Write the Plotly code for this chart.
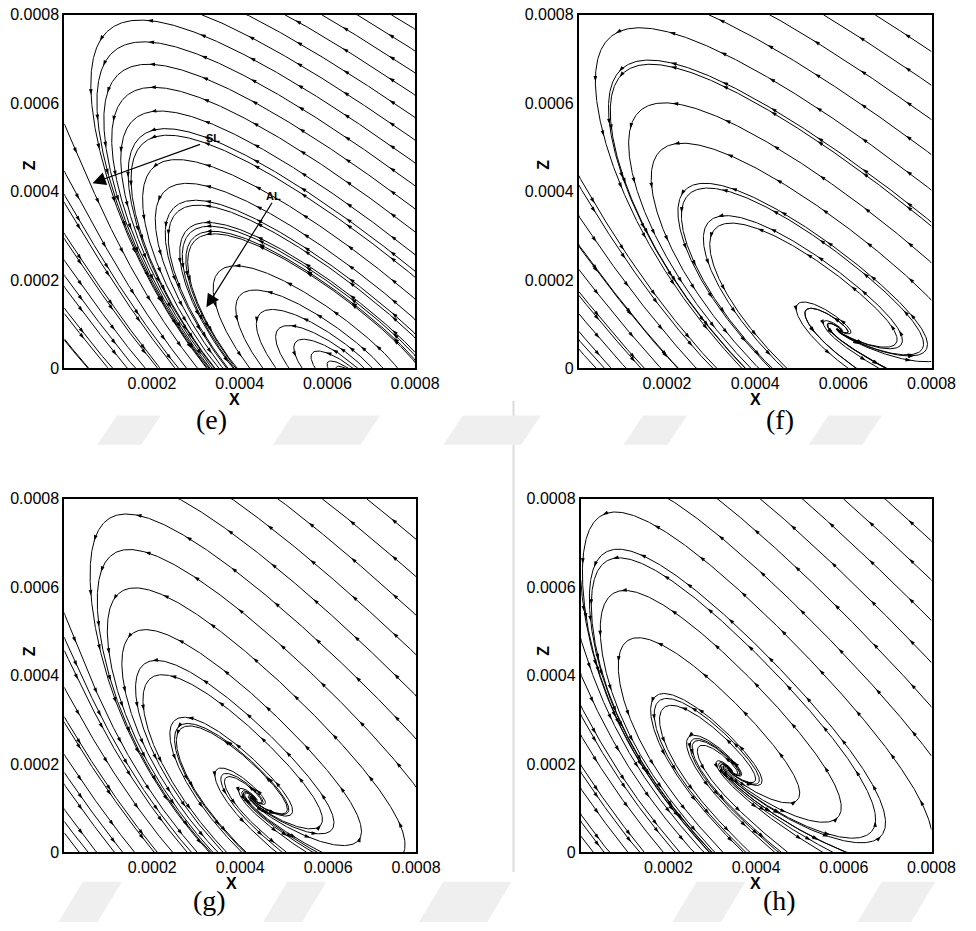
import numpy as np
import plotly.graph_objects as go

# ---------------- data (lengths in units of 1e-4) ----------------
PANEL_LABELS = ["(e)", "(f)", "(g)", "(h)"]
FOCUS_X = [6.5, 5.9, 4.3, 3.4]          # source / focus position
FOCUS_Z = [-0.12, 0.86, 1.2, 1.85]
AXIS_DEG = [140, 140, 134, 132]         # orientation of the elongated loops
M_LEFT = [-0.25, -0.19, -0.20, -0.25]   # tilt of turning line near the source
K_LEFT = [0.054, 0.047, 0.07, 0.08]     # bending of turning line toward the separation line
M_RIGHT = [0.50, 0.50, 0.45, 0.45]      # tilt of turning line (attachment side)
A_COEF = [0.10, 0.10, 0.10, 0.10]
B_COEF = [0.05, 0.05, 0.05, 0.05]
C_COEF = [0.02, 0.02, 0.02, 0.02]
SEED_STEP = [0.3, 0.45, 0.45, 0.45]     # rake spacing along the diagonal
# heights where the lower-left lines enter through the left edge
LEFT_SEEDS = [[4.4, 3.7, 3.0, 2.4, 1.8, 1.2, 0.6],
              [4.3, 3.4, 2.75, 2.2, 1.7, 1.2, 0.8, 0.4],
              [5.33, 4.5, 3.67, 2.89, 2.16, 1.49, 0.93, 0.4],
              [5.82, 4.73, 3.96, 3.26, 2.6, 1.93, 1.4, 0.82, 0.33]]
X_TICKS = [0.0002, 0.0004, 0.0006, 0.0008]
X_TICKTEXT = ["0.0002", "0.0004", "0.0006", "0.0008"]
Z_TICKS = [0, 0.0002, 0.0004, 0.0006, 0.0008]
Z_TICKTEXT = ["0", "0.0002", "0.0004", "0.0006", "0.0008"]

W, H = 976, 931
BOX = [(66, 426, 7, 367), (594, 956, 7, 367), (66, 427, 500, 860), (596, 956, 500, 860)]
L = 8.0


def make_field(i):
    F = np.array([FOCUS_X[i], FOCUS_Z[i]])
    th = np.radians(AXIS_DEG[i])
    es = np.array([np.cos(th), np.sin(th)])
    en = np.array([np.sin(th), -np.cos(th)])
    m1, k1, m2 = M_LEFT[i], K_LEFT[i], M_RIGHT[i]
    a, b, c = A_COEF[i], B_COEF[i], C_COEF[i]

    def f(P):
        X = P - F
        s = X @ es
        n = X @ en
        sp = np.maximum(s, 0)
        sm = np.maximum(-s, 0)
        ds = n - m1 * sp - k1 * sp * sp - m2 * sm
        dn = -a * s + b * n - c * np.maximum(n, 0) ** 2
        return ds[:, None] * es[None, :] + dn[:, None] * en[None, :]
    return f


def integrate(f, seeds, sign, h=0.025, Lmax=32, vmin=0.003):
    N = len(seeds)
    nst = int(Lmax / h)
    out = np.full((nst + 1, N, 2), np.nan)
    P = seeds.astype(float).copy()
    out[0] = P
    alive = np.ones(N, bool)

    def u(Q):
        V = f(Q)
        m = np.hypot(V[:, 0], V[:, 1])
        return sign * V / np.maximum(m, 1e-12)[:, None], m

    for k in range(nst):
        idx = np.flatnonzero(alive)
        if idx.size == 0:
            break
        p = P[idx]
        k1, m1 = u(p)
        k2, _ = u(p + 0.5 * h * k1)
        k3, _ = u(p + 0.5 * h * k2)
        k4, _ = u(p + h * k3)
        pn = p + h / 6 * (k1 + 2 * k2 + 2 * k3 + k4)
        ex = (pn[:, 0] < 0) | (pn[:, 0] > L) | (pn[:, 1] < 0) | (pn[:, 1] > L)
        pn = np.clip(pn, 0, L)
        stop = ex | (m1 < vmin)
        out[k + 1, idx] = pn
        P[idx] = pn
        alive[idx[stop]] = False
    return out


fig = go.Figure()
for i in range(4):
    f = make_field(i)
    t = np.arange(0.3, 7.85, SEED_STEP[i])
    S = [np.c_[t, t]]
    zl = np.array(LEFT_SEEDS[i])
    S.append(np.c_[np.full_like(zl, 0.03), zl])
    F = np.array([FOCUS_X[i], FOCUS_Z[i]])
    ang = np.linspace(0, 2 * np.pi, 9)[:-1]
    if F[1] > 0:
        S.append(F + 0.2 * np.c_[np.cos(ang), np.sin(ang)])
    else:
        xx = np.arange(3.9, 6.5, 0.3)
        S.append(np.c_[xx, np.full_like(xx, 0.04)])
    S = np.vstack(S)
    S = S[(S[:, 0] > 0) & (S[:, 0] < L) & (S[:, 1] > 0) & (S[:, 1] < L)]
    fw = integrate(f, S, 1)
    bw = integrate(f, S, -1)
    xs, zs, axp, azp, aang = [], [], [], [], []
    for j in range(len(S)):
        a1 = fw[:, j]; a1 = a1[~np.isnan(a1[:, 0])]
        b1 = bw[:, j]; b1 = b1[~np.isnan(b1[:, 0])]
        line = np.vstack([b1[::-1], a1[1:]])
        if len(line) < 3:
            continue
        xs += list(line[:, 0] * 1e-4) + [None]
        zs += list(line[:, 1] * 1e-4) + [None]
        dl = np.hypot(*np.diff(line, axis=0).T)
        cl = np.r_[0, np.cumsum(dl)]
        for sa in np.arange(0.7, cl[-1] - 0.2, 1.25):
            k = np.searchsorted(cl, sa)
            if 1 <= k < len(line) - 1:
                dx, dz = line[k + 1] - line[k - 1]
                axp.append(line[k, 0] * 1e-4)
                azp.append(line[k, 1] * 1e-4)
                aang.append(float(np.degrees(np.arctan2(dx, dz))))
    xa = "x" if i == 0 else f"x{i + 1}"
    ya = "y" if i == 0 else f"y{i + 1}"
    fig.add_trace(go.Scatter(x=xs, y=zs, mode="lines", xaxis=xa, yaxis=ya,
                             line=dict(color="black", width=1.0), showlegend=False, hoverinfo="skip"))
    fig.add_trace(go.Scatter(x=axp, y=azp, mode="markers", xaxis=xa, yaxis=ya,
                             marker=dict(symbol="arrow", size=6, angle=aang, color="black"),
                             showlegend=False, hoverinfo="skip"))

font_tick = dict(family="Liberation Sans, Arial, sans-serif", size=16, color="black")
layout = dict(width=W, height=H, margin=dict(l=0, r=0, t=0, b=0),
              plot_bgcolor="white", paper_bgcolor="white", showlegend=False)
for i, (x0, x1, y0, y1) in enumerate(BOX):
    sx = "" if i == 0 else str(i + 1)
    layout["xaxis" + sx] = dict(domain=[x0 / W, x1 / W], range=[0, 0.0008], anchor="y" + sx,
                                showline=True, mirror=True, linewidth=2, linecolor="black",
                                ticks="", tickvals=X_TICKS, ticktext=X_TICKTEXT, tickfont=font_tick,
                                showgrid=False, zeroline=False)
    layout["yaxis" + sx] = dict(domain=[1 - y1 / H, 1 - y0 / H], range=[0, 0.0008], anchor="x" + sx,
                                showline=True, mirror=True, linewidth=2, linecolor="black",
                                ticks="", tickvals=Z_TICKS, ticktext=Z_TICKTEXT, tickfont=font_tick,
                                showgrid=False, zeroline=False)
fig.update_layout(**layout)


def pann(px, py, text, font, angle=0):
    return dict(x=px / W, y=1 - py / H, xref="paper", yref="paper", text=text, textangle=angle,
                xanchor="center", yanchor="middle", showarrow=False, font=font)


ann = []
title_font = dict(family="Liberation Sans, Arial, sans-serif", size=16, color="black")
cap_font = dict(family="Liberation Serif, serif", size=28, color="black")
ZT = [(30, 160), (557, 160), (30, 655), (557, 655)]
XT = [(241, 399), (775, 399), (238, 892), (775, 892)]
CAP = [(217, 419), (800, 419), (215, 909), (800, 909)]
for i in range(4):
    ann.append(pann(*ZT[i], "<b>Z</b>", title_font, -90))
    ann.append(pann(*XT[i], "<b>X</b>", title_font))
    ann.append(pann(*CAP[i], PANEL_LABELS[i], cap_font))
ann.append(dict(x=0.0000644, y=0.000419, ax=0.000313, ay=0.000508, xref="x", yref="y", axref="x", ayref="y",
                text="", showarrow=True, arrowhead=2, arrowsize=2.2, arrowwidth=1.2, arrowcolor="black"))
ann.append(dict(x=0.000324, y=0.000138, ax=0.000476, ay=0.000378, xref="x", yref="y", axref="x", ayref="y",
                text="", showarrow=True, arrowhead=2, arrowsize=2.2, arrowwidth=1.2, arrowcolor="black"))
lab_font = dict(family="Liberation Sans, Arial", size=11, color="black")
ann.append(pann(219, 132, "<b>SL</b>", lab_font))
ann.append(pann(281, 191, "<b>AL</b>", lab_font))
fig.update_layout(annotations=ann)

shapes = [dict(type="line", xref="paper", yref="paper", x0=527 / W, x1=527 / W, y0=1 - 400 / H, y1=1 - 880 / H,
               line=dict(color="#dcdcdc", width=2), layer="below")]
blobs = [[(100, 445), (120, 415), (165, 415), (145, 445)],
         [(280, 445), (300, 415), (390, 415), (370, 445)],
         [(455, 445), (475, 415), (555, 415), (535, 445)],
         [(640, 445), (660, 415), (705, 415), (685, 445)],
         [(830, 445), (850, 415), (905, 415), (885, 445)],
         [(60, 931), (85, 890), (125, 890), (100, 931)],
         [(270, 931), (295, 890), (335, 890), (310, 931)],
         [(430, 931), (455, 890), (525, 890), (500, 931)],
         [(690, 931), (715, 890), (765, 890), (740, 931)],
         [(880, 931), (905, 890), (960, 890), (935, 931)]]
for bl in blobs:
    path = "M " + " L ".join(f"{px / W},{1 - py / H}" for px, py in bl) + " Z"
    shapes.append(dict(type="path", xref="paper", yref="paper", path=path, fillcolor="#efefef",
                       line=dict(width=0), layer="below"))
fig.update_layout(shapes=shapes)
fig.write_html("out.html")
